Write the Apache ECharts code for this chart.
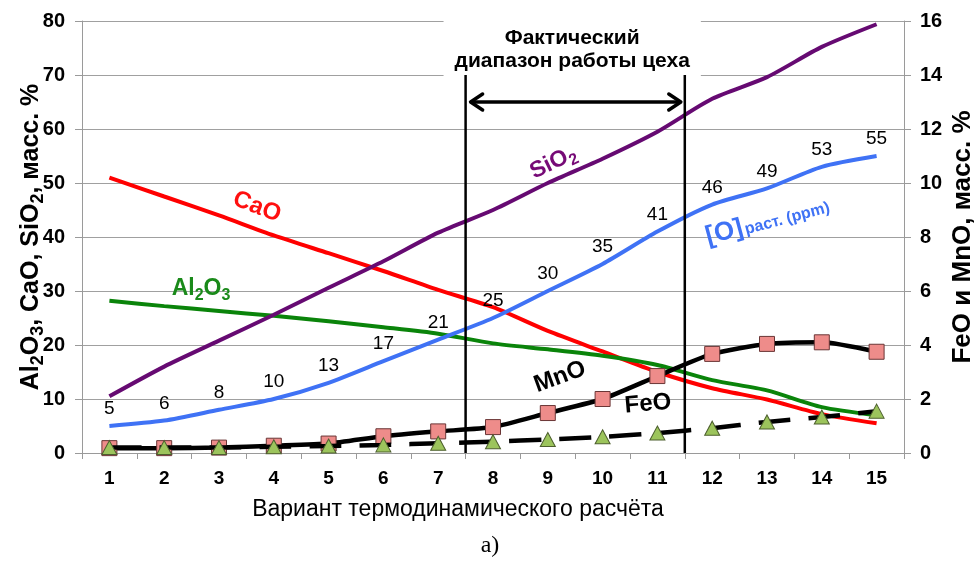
<!DOCTYPE html>
<html>
<head>
<meta charset="utf-8">
<script src="https://cdn.jsdelivr.net/npm/echarts@6/dist/echarts.min.js"></script>
<style>
  html, body { margin: 0; padding: 0; background: #fff; }
  #chart { width: 978px; height: 562px; }
</style>
</head>
<body>
<div id="chart"></div>
<script>
// Thermodynamic calculation variants
const categories = ['1', '2', '3', '4', '5', '6', '7', '8', '9', '10', '11', '12', '13', '14', '15'];

// Slag composition, wt. % (left axis)
const caO   = [51, 47.5, 44, 40.3, 37, 33.7, 30.2, 27, 22.6, 18.8, 15, 12, 9.9, 7.2, 5.5];
const al2o3 = [28.2, 27.2, 26.3, 25.4, 24.4, 23.3, 22.1, 20.3, 19.2, 18, 16.3, 13.5, 11.6, 8.5, 7];
const siO2  = [10.5, 16, 20.8, 25.6, 30.6, 35.5, 40.8, 45, 50, 54.5, 59.5, 65.6, 69.6, 75.2, 79.4];

// Dissolved oxygen, ppm (plotted on the left axis scale)
const oxygen = [5, 6, 8, 10, 13, 17, 21, 25, 30, 35, 41, 46, 49, 53, 55];

// FeO and MnO, wt. % (right axis)
const mnO = [0.18, 0.18, 0.2, 0.27, 0.35, 0.62, 0.8, 0.96, 1.48, 2.0, 2.85, 3.67, 4.04, 4.1, 3.75];
const feO = [0.2, 0.2, 0.2, 0.23, 0.26, 0.3, 0.36, 0.42, 0.5, 0.6, 0.74, 0.92, 1.15, 1.33, 1.55];

// Axis ticks
const leftTicks = { min: 0, max: 80, interval: 10 };
const rightTicks = { min: 0, max: 16, interval: 2 };

// Actual shop operating range: between variants 7|8 and 11|12
const rangeFrom = 7.5;
const rangeTo = 11.5;
const rangeTop = 70;
const arrowLevel = 65;

const FONT = '"Liberation Sans", Arial, sans-serif';

const chart = echarts.init(document.getElementById('chart'), null, { renderer: 'canvas' });

// Rich-text styles with subscripts; axis names take "color", graphic texts take "fill"
function subRich(color, size, key) {
  const base = { fontFamily: FONT, fontWeight: 'bold', fontSize: size, verticalAlign: 'bottom', lineHeight: size + 6 };
  const sub = { fontFamily: FONT, fontWeight: 'bold', fontSize: Math.round(size * 0.7), verticalAlign: 'bottom', lineHeight: size + 6, padding: [0, 0, -3, 0] };
  base[key] = color;
  sub[key] = color;
  return { b: base, s: sub };
}

const option = {
  backgroundColor: '#fff',
  animation: false,
  grid: { left: 82, right: 74, top: 21, bottom: 109, containLabel: false, outerBoundsMode: 'none' },
  xAxis: [
    {
      type: 'category',
      data: categories,
      boundaryGap: true,
      axisLine: { lineStyle: { color: '#9a9a9a', width: 1 } },
      axisTick: { show: true, length: 6, lineStyle: { color: '#9a9a9a' } },
      axisLabel: { color: '#000', fontFamily: FONT, fontWeight: 'bold', fontSize: 19, margin: 16 },
      splitLine: { show: false }
    },
    {
      type: 'value', min: 0.5, max: 15.5, show: false
    }
  ],
  yAxis: [
    {
      type: 'value',
      min: leftTicks.min, max: leftTicks.max, interval: leftTicks.interval,
      axisLine: { show: true, lineStyle: { color: '#9a9a9a' } },
      axisTick: { show: true, length: 7, lineStyle: { color: '#9a9a9a' } },
      axisLabel: { color: '#000', fontFamily: FONT, fontWeight: 'bold', fontSize: 20, margin: 17 },
      splitLine: { show: true, lineStyle: { color: '#a0a0a0', width: 1 } },
      name: '{b|Al}{s|2}{b|O}{s|3}{b|, CaO, SiO}{s|2}{b|, масс. %}',
      nameLocation: 'middle',
      nameRotate: 90,
      nameGap: 38,
      nameMoveOverlap: false,
      nameTextStyle: { rich: subRich('#000', 25, 'color') }
    },
    {
      type: 'value',
      min: rightTicks.min, max: rightTicks.max, interval: rightTicks.interval,
      axisLine: { show: true, lineStyle: { color: '#9a9a9a' } },
      axisTick: { show: true, length: 7, lineStyle: { color: '#9a9a9a' } },
      axisLabel: { color: '#000', fontFamily: FONT, fontWeight: 'bold', fontSize: 20, margin: 16 },
      splitLine: { show: false },
      name: 'FeO и MnO, масс. %',
      nameLocation: 'middle',
      nameRotate: 90,
      nameGap: 46,
      nameMoveOverlap: false,
      nameTextStyle: { color: '#000', fontFamily: FONT, fontWeight: 'bold', fontSize: 26 }
    }
  ],
  series: [
    {
      name: 'CaO', type: 'line', data: caO, smooth: 0.25, symbol: 'none',
      lineStyle: { color: '#ff0000', width: 4 }, z: 3
    },
    {
      name: 'Al2O3', type: 'line', data: al2o3, smooth: 0.25, symbol: 'none',
      lineStyle: { color: '#0a840a', width: 4 }, z: 3
    },
    {
      name: 'SiO2', type: 'line', data: siO2, smooth: 0.25, symbol: 'none',
      lineStyle: { color: '#660a72', width: 4 }, z: 3
    },
    {
      name: '[O]', type: 'line', data: oxygen, smooth: 0.25, symbol: 'circle', symbolSize: 1,
      itemStyle: { color: 'rgba(0,0,0,0)' },
      lineStyle: { color: '#3f72f5', width: 4 }, z: 3,
      label: { show: true, position: 'top', distance: 7, color: '#000', fontFamily: FONT, fontSize: 19 }
    },
    {
      name: 'FeO', type: 'line', yAxisIndex: 1, data: feO, smooth: 0.2,
      symbol: 'triangle', symbolSize: [15, 14],
      itemStyle: { color: '#9cc45c', borderColor: '#4d5f2e', borderWidth: 1 },
      lineStyle: { color: '#000', width: 4.5, type: [32, 18] }, z: 5
    },
    {
      name: 'MnO', type: 'line', yAxisIndex: 1, data: mnO, smooth: 0.2,
      symbol: 'rect', symbolSize: 15,
      itemStyle: { color: '#ee8c8a', borderColor: '#6a3636', borderWidth: 1 },
      lineStyle: { color: '#000', width: 4.5 }, z: 4
    },
    {
      // Operating range markers, arrow and caption
      type: 'custom', xAxisIndex: 1, yAxisIndex: 0, data: [0], z: 6, silent: true,
      renderItem: function (params, api) {
        const a0 = api.coord([rangeFrom, 0]);
        const a1 = api.coord([rangeFrom, rangeTop]);
        const b0 = api.coord([rangeTo, 0]);
        const b1 = api.coord([rangeTo, rangeTop]);
        const ar = api.coord([rangeFrom, arrowLevel]);
        const ay = ar[1];
        const xl = a0[0] + 5, xr = b0[0] - 4;
        const h = 8, w = 12;
        const cx = (a0[0] + b0[0]) / 2;
        return {
          type: 'group',
          children: [
            {
              type: 'text', x: cx - 3, y: a1[1] + 1,
              style: {
                text: 'Фактический\nдиапазон работы цеха',
                align: 'center', verticalAlign: 'bottom',
                font: 'bold 21px ' + FONT, fill: '#000', lineHeight: 23,
                backgroundColor: '#fff', padding: [13, 11, 3, 11]
              }
            },
            { type: 'line', shape: { x1: a0[0], y1: a0[1], x2: a1[0], y2: a1[1] }, style: { stroke: '#000', lineWidth: 2.5 } },
            { type: 'line', shape: { x1: b0[0], y1: b0[1], x2: b1[0], y2: b1[1] }, style: { stroke: '#000', lineWidth: 2.5 } },
            { type: 'line', shape: { x1: xl, y1: ay, x2: xr, y2: ay }, style: { stroke: '#000', lineWidth: 3.5 } },
            { type: 'polyline', shape: { points: [[xl + w, ay - h], [xl, ay], [xl + w, ay + h]] }, style: { stroke: '#000', fill: null, lineWidth: 3.5, lineJoin: 'round', lineCap: 'round' } },
            { type: 'polyline', shape: { points: [[xr - w, ay - h], [xr, ay], [xr - w, ay + h]] }, style: { stroke: '#000', fill: null, lineWidth: 3.5, lineJoin: 'round', lineCap: 'round' } }
          ]
        };
      }
    }
  ],
  graphic: [
    { type: 'text', x: 257, y: 207, rotation: -21 * Math.PI / 180, z: 10,
      style: { text: 'CaO', font: 'bold 24px ' + FONT, fill: '#ff1010', align: 'center', verticalAlign: 'middle' } },
    { type: 'text', x: 201, y: 286, z: 10,
      style: { text: '{b|Al}{s|2}{b|O}{s|3}', rich: subRich('#1a8a1a', 23, 'fill'), align: 'center', verticalAlign: 'middle' } },
    { type: 'text', x: 552, y: 160, rotation: 26 * Math.PI / 180, z: 10,
      style: { text: '{b|SiO}{s|2}', rich: subRich('#760a76', 23, 'fill'), align: 'center', verticalAlign: 'middle' } },
    { type: 'text', x: 767, y: 219, rotation: 15 * Math.PI / 180, z: 10,
      style: {
        text: '{o|[O]}{r|раст. (ppm)}', align: 'center', verticalAlign: 'middle',
        rich: {
          o: { fontFamily: FONT, fontWeight: 'bold', fontSize: 26, fill: '#3f72f5', verticalAlign: 'bottom', lineHeight: 30 },
          r: { fontFamily: FONT, fontWeight: 'bold', fontSize: 16, fill: '#3f72f5', verticalAlign: 'bottom', lineHeight: 30, padding: [0, 0, 2, 2] }
        }
      } },
    { type: 'text', x: 560, y: 377, rotation: 20 * Math.PI / 180, z: 10,
      style: { text: 'MnO', font: 'bold 24px ' + FONT, fill: '#000', align: 'center', verticalAlign: 'middle' } },
    { type: 'text', x: 648, y: 404, rotation: 5 * Math.PI / 180, z: 10,
      style: { text: 'FeO', font: 'bold 24px ' + FONT, fill: '#000', align: 'center', verticalAlign: 'middle' } },
    { type: 'text', x: 458, y: 510, z: 10,
      style: { text: 'Вариант термодинамического расчёта', font: '23px ' + FONT, fill: '#000', align: 'center', verticalAlign: 'middle' } },
    { type: 'text', x: 490, y: 546, z: 10,
      style: { text: 'а)', font: '24px "Liberation Serif", "Times New Roman", serif', fill: '#000', align: 'center', verticalAlign: 'middle' } }
  ]
};

chart.setOption(option);
</script>
</body>
</html>
